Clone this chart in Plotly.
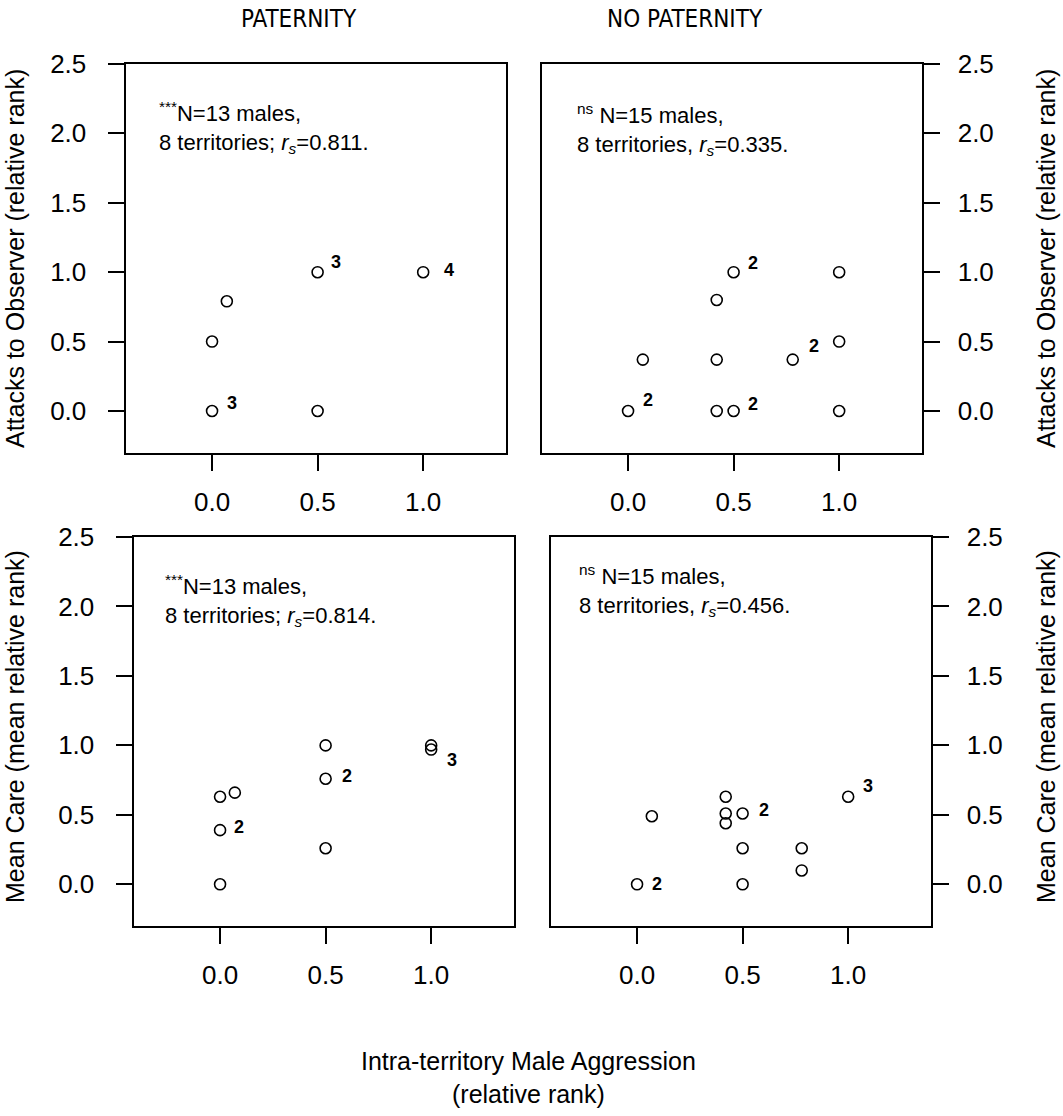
import plotly.graph_objects as go

W, H = 1063, 1116

# ---------------- data ----------------
# Top row: Attacks to Observer (relative rank)
pat_att_x = [0.0, 0.5, 0.0, 0.07, 0.5, 1.0]
pat_att_y = [0.0, 0.0, 0.5, 0.79, 1.0, 1.0]
pat_att_n = [3, 1, 1, 1, 3, 4]

nopat_att_x = [0.0, 0.07, 0.42, 0.42, 0.5, 0.42, 0.5, 0.78, 1.0, 1.0, 1.0]
nopat_att_y = [0.0, 0.37, 0.37, 0.8, 1.0, 0.0, 0.0, 0.37, 1.0, 0.5, 0.0]
nopat_att_n = [2, 1, 1, 1, 2, 1, 2, 2, 1, 1, 1]

# Bottom row: Mean Care (mean relative rank)
pat_care_x = [0.0, 0.0, 0.0, 0.07, 0.5, 0.5, 0.5, 1.0, 1.0]
pat_care_y = [0.0, 0.39, 0.63, 0.66, 1.0, 0.76, 0.26, 1.0, 0.97]
pat_care_n = [1, 2, 1, 1, 1, 2, 1, 1, 3]

nopat_care_x = [0.0, 0.07, 0.42, 0.42, 0.42, 0.5, 0.5, 0.5, 0.78, 0.78, 1.0]
nopat_care_y = [0.0, 0.49, 0.63, 0.51, 0.44, 0.51, 0.26, 0.0, 0.26, 0.1, 0.63]
nopat_care_n = [2, 1, 1, 1, 1, 2, 1, 1, 1, 1, 3]

col_titles = ["PATERNITY", "NO PATERNITY"]
row_titles = ["Attacks to Observer (relative rank)", "Mean Care (mean relative rank)"]
x_title = "Intra-territory Male Aggression<br>(relative rank)"
stats = [
    "<sup>***</sup>N=13 males,<br>8 territories; <i>r<sub>s</sub></i>=0.811.",
    "<sup>ns</sup> N=15 males,<br>8 territories, <i>r<sub>s</sub></i>=0.335.",
    "<sup>***</sup>N=13 males,<br>8 territories; <i>r<sub>s</sub></i>=0.814.",
    "<sup>ns</sup> N=15 males,<br>8 territories, <i>r<sub>s</sub></i>=0.456.",
]
x_ticks = [0.0, 0.5, 1.0]
y_ticks = [0.0, 0.5, 1.0, 1.5, 2.0, 2.5]

# ---------------- layout helpers ----------------
def px(x):
    return x / W

def py(y):
    return 1 - y / H

panels = [
    dict(x=pat_att_x, y=pat_att_y, n=pat_att_n, xd=(125.5, 505.5), yd=(452.6, 64), side="left",
         stat_pos=(157, 96), offs={0: (20, 8), 4: (18, 10), 5: (26, 2)}),
    dict(x=nopat_att_x, y=nopat_att_y, n=nopat_att_n, xd=(541.5, 921.5), yd=(452.6, 64), side="right",
         stat_pos=(575, 98), offs={0: (20, 11), 4: (19, 9), 6: (19, 7), 7: (21, 14)}),
    dict(x=pat_care_x, y=pat_care_y, n=pat_care_n, xd=(133.5, 513.5), yd=(926, 537), side="left",
         stat_pos=(163, 569), offs={1: (19, 3), 5: (21, 3), 8: (21, -10)}),
    dict(x=nopat_care_x, y=nopat_care_y, n=nopat_care_n, xd=(550.5, 930.5), yd=(926, 537), side="right",
         stat_pos=(577, 559), offs={0: (20, 0), 5: (21, 3), 10: (20, 11)}),
]

fig = go.Figure()
annotations = []
tickfont = dict(family="Liberation Sans, Arial, sans-serif", size=26, color="black")

for i, p in enumerate(panels):
    k = "" if i == 0 else str(i + 1)
    xa, ya = "x" + k, "y" + k
    fig.add_trace(go.Scatter(
        x=p["x"], y=p["y"], mode="markers", xaxis=xa, yaxis=ya,
        marker=dict(symbol="circle-open", size=11, color="black", line=dict(width=1.6, color="black")),
        showlegend=False, hoverinfo="skip"))
    for j, (xv, yv, nv) in enumerate(zip(p["x"], p["y"], p["n"])):
        if nv > 1:
            dx, dy = p["offs"].get(j, (20, 8))
            annotations.append(dict(
                x=xv, y=yv, xref=xa, yref=ya, text=str(nv), showarrow=False,
                xshift=dx, yshift=dy,
                font=dict(family="Liberation Sans, Arial, sans-serif", size=18, color="black", weight="bold")))
    axis_common = dict(showline=True, linewidth=2, linecolor="black", mirror=True,
                       ticks="outside", ticklen=16, tickwidth=2, tickcolor="black",
                       showgrid=False, zeroline=False, tickfont=tickfont, automargin=False)
    fig.update_layout(**{
        "xaxis" + k: dict(domain=[px(p["xd"][0]), px(p["xd"][1])], range=[-0.41, 1.39],
                          tickvals=x_ticks, tickformat=".1f", anchor=ya,
                          ticklabelstandoff=9, **axis_common),
        "yaxis" + k: dict(domain=[py(p["yd"][0]), py(p["yd"][1])], range=[-0.3, 2.5],
                          tickvals=y_ticks, tickformat=".1f", anchor=xa, side=p["side"],
                          ticklabelstandoff=(16 if p["side"] == "left" else 13), **axis_common),
    })
    sx, sy = p["stat_pos"]
    annotations.append(dict(
        x=px(sx), y=py(sy), xref="paper", yref="paper", xanchor="left", yanchor="top",
        align="left", text=stats[i], showarrow=False,
        font=dict(family="Liberation Sans, Arial, sans-serif", size=22, color="black")))

title_font = dict(family="Liberation Sans Narrow, DejaVu Sans Condensed, Arial Narrow, Liberation Sans, sans-serif",
                  size=24, color="black")
for t, cx in zip(col_titles, [299, 685]):
    annotations.append(dict(x=px(cx), y=py(19), xref="paper", yref="paper", text=t, showarrow=False,
                            xanchor="center", yanchor="middle", font=title_font))

ytitle_font = dict(family="Liberation Sans, Arial, sans-serif", size=25, color="black")
for t, cy in zip(row_titles, [259, 727]):
    for cx in [15, 1046]:
        annotations.append(dict(x=px(cx), y=py(cy), xref="paper", yref="paper", text=t, showarrow=False,
                                textangle=-90, xanchor="center", yanchor="middle", font=ytitle_font))

annotations.append(dict(x=px(528), y=py(1077), xref="paper", yref="paper", text=x_title, showarrow=False,
                        xanchor="center", yanchor="middle",
                        font=dict(family="Liberation Sans, Arial, sans-serif", size=25, color="black")))

fig.update_layout(
    width=W, height=H, margin=dict(l=0, r=0, t=0, b=0, autoexpand=False),
    paper_bgcolor="white", plot_bgcolor="white",
    annotations=annotations,
)

fig.write_html(
    "out.html",
    config={"displayModeBar": False},
    post_script="document.body.style.margin='0';document.body.style.overflow='hidden';",
)
